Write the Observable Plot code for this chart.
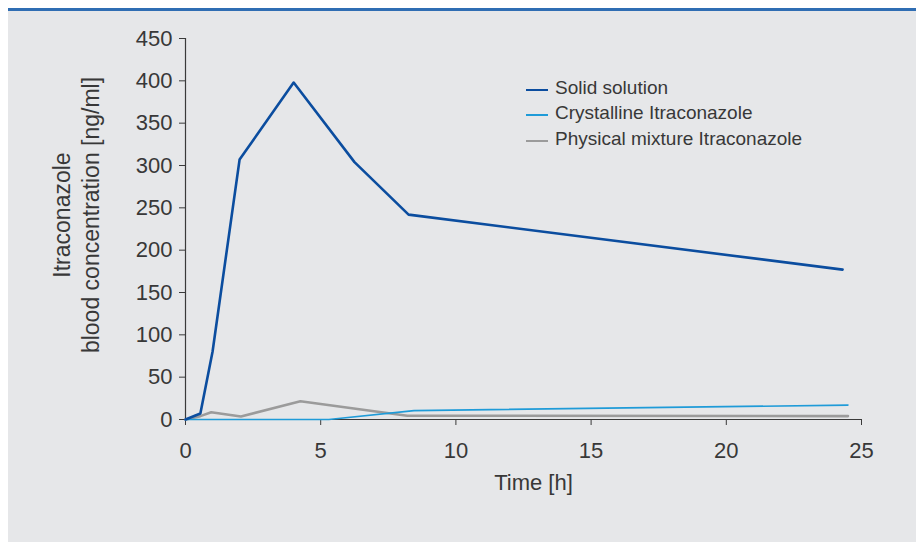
<!DOCTYPE html>
<html>
<head>
<meta charset="utf-8">
<script src="https://cdn.jsdelivr.net/npm/d3@7"></script>
<script src="https://cdn.jsdelivr.net/npm/@observablehq/plot@0.6"></script>
<style>
  html, body { margin: 0; padding: 0; background: #ffffff; }
  #wrap { position: relative; width: 919px; height: 542px; overflow: hidden; font-family: "Liberation Sans", Arial, sans-serif; }
  #panel { position: absolute; left: 8px; top: 11px; width: 908px; height: 531px; background: #e6e7e9; }
  #bar { position: absolute; left: 8px; top: 8px; width: 908px; height: 3px; background: #2f6db3; }
  #chart { position: absolute; left: 0; top: 0; }
  #legend { position: absolute; left: 526px; top: 75px; font-size: 19px; color: #383838; }
  #legend .row { display: flex; align-items: center; height: 25.5px; }
  #legend .sw { display: inline-block; width: 22px; height: 2px; margin-right: 7px; margin-top: 4px; }
</style>
</head>
<body>
<div id="wrap">
  <div id="panel"></div>
  <div id="bar"></div>
  <div id="chart"></div>
  <div id="legend"></div>
</div>
<script>
// ---- data ----
const seriesNames = ["Solid solution", "Crystalline Itraconazole", "Physical mixture Itraconazole"];
const seriesColors = ["#0b4d9f", "#1f9bd8", "#9b9b9b"];

const solidTime = [0, 0.55, 1.0, 2.0, 4.0, 6.25, 8.25, 24.3];
const solidConc = [0, 7, 80, 307, 398, 304, 242, 177];

const crystTime = [0, 5.3, 8.45, 24.5];
const crystConc = [0, 0, 10.5, 17];

const physTime = [0, 0.55, 0.95, 2.05, 4.25, 8.2, 24.5];
const physConc = [0, 4, 8.5, 3.5, 21.5, 4.5, 4];

const xTicks = [0, 5, 10, 15, 20, 25];
const yTicks = [0, 50, 100, 150, 200, 250, 300, 350, 400, 450];
const xLabel = "Time [h]";
const yLabel = "Itraconazole\nblood concentration [ng/ml]";

// ---- build tables ----
function rows(times, vals, name) { return times.map((t, i) => ({t, v: vals[i], name})); }
const solid = rows(solidTime, solidConc, seriesNames[0]);
const cryst = rows(crystTime, crystConc, seriesNames[1]);
const phys = rows(physTime, physConc, seriesNames[2]);

const axisColor = "#3a3a3a";
const textColor = "#383838";
const chart = Plot.plot({
  width: 919,
  height: 542,
  marginLeft: 185,
  marginRight: 58,
  marginTop: 38,
  marginBottom: 123,
  style: { background: "transparent", fontFamily: "'Liberation Sans', Arial, sans-serif", fontSize: "22px", color: textColor },
  x: { domain: [0, 25] },
  y: { domain: [0, 450] },
  marks: [
    Plot.axisY({ ticks: yTicks, tickSize: 6, tickPadding: 7, label: null, fontSize: 22, stroke: axisColor, fill: textColor }),
    Plot.axisX({ ticks: xTicks, tickSize: 6, tickPadding: 17, label: null, fontSize: 22, stroke: axisColor, fill: textColor }),
    Plot.ruleX([0], { stroke: axisColor, strokeWidth: 1.2 }),
    Plot.ruleY([0], { stroke: axisColor, strokeWidth: 1.2 }),
    Plot.line(phys, { x: "t", y: "v", stroke: seriesColors[2], strokeWidth: 2.6 }),
    Plot.line(cryst, { x: "t", y: "v", stroke: seriesColors[1], strokeWidth: 1.6 }),
    Plot.line(solid, { x: "t", y: "v", stroke: seriesColors[0], strokeWidth: 2.6 }),
    Plot.text([xLabel], { frameAnchor: "bottom", lineAnchor: "middle", textAnchor: "middle", dy: 63, dx: 10, fontSize: 22, fill: textColor }),
    Plot.text([yLabel], { frameAnchor: "left", textAnchor: "middle", lineAnchor: "middle", rotate: -90, dx: -110, dy: -14, fontSize: 23, lineHeight: 1.26, fill: textColor })
  ]
});
document.getElementById("chart").appendChild(chart);

// ---- legend ----
const legend = document.getElementById("legend");
seriesNames.forEach((n, i) => {
  const r = document.createElement("div");
  r.className = "row";
  const s = document.createElement("span");
  s.className = "sw";
  s.style.background = seriesColors[i];
  const t = document.createElement("span");
  t.textContent = n;
  r.appendChild(s); r.appendChild(t);
  legend.appendChild(r);
});
</script>
</body>
</html>
